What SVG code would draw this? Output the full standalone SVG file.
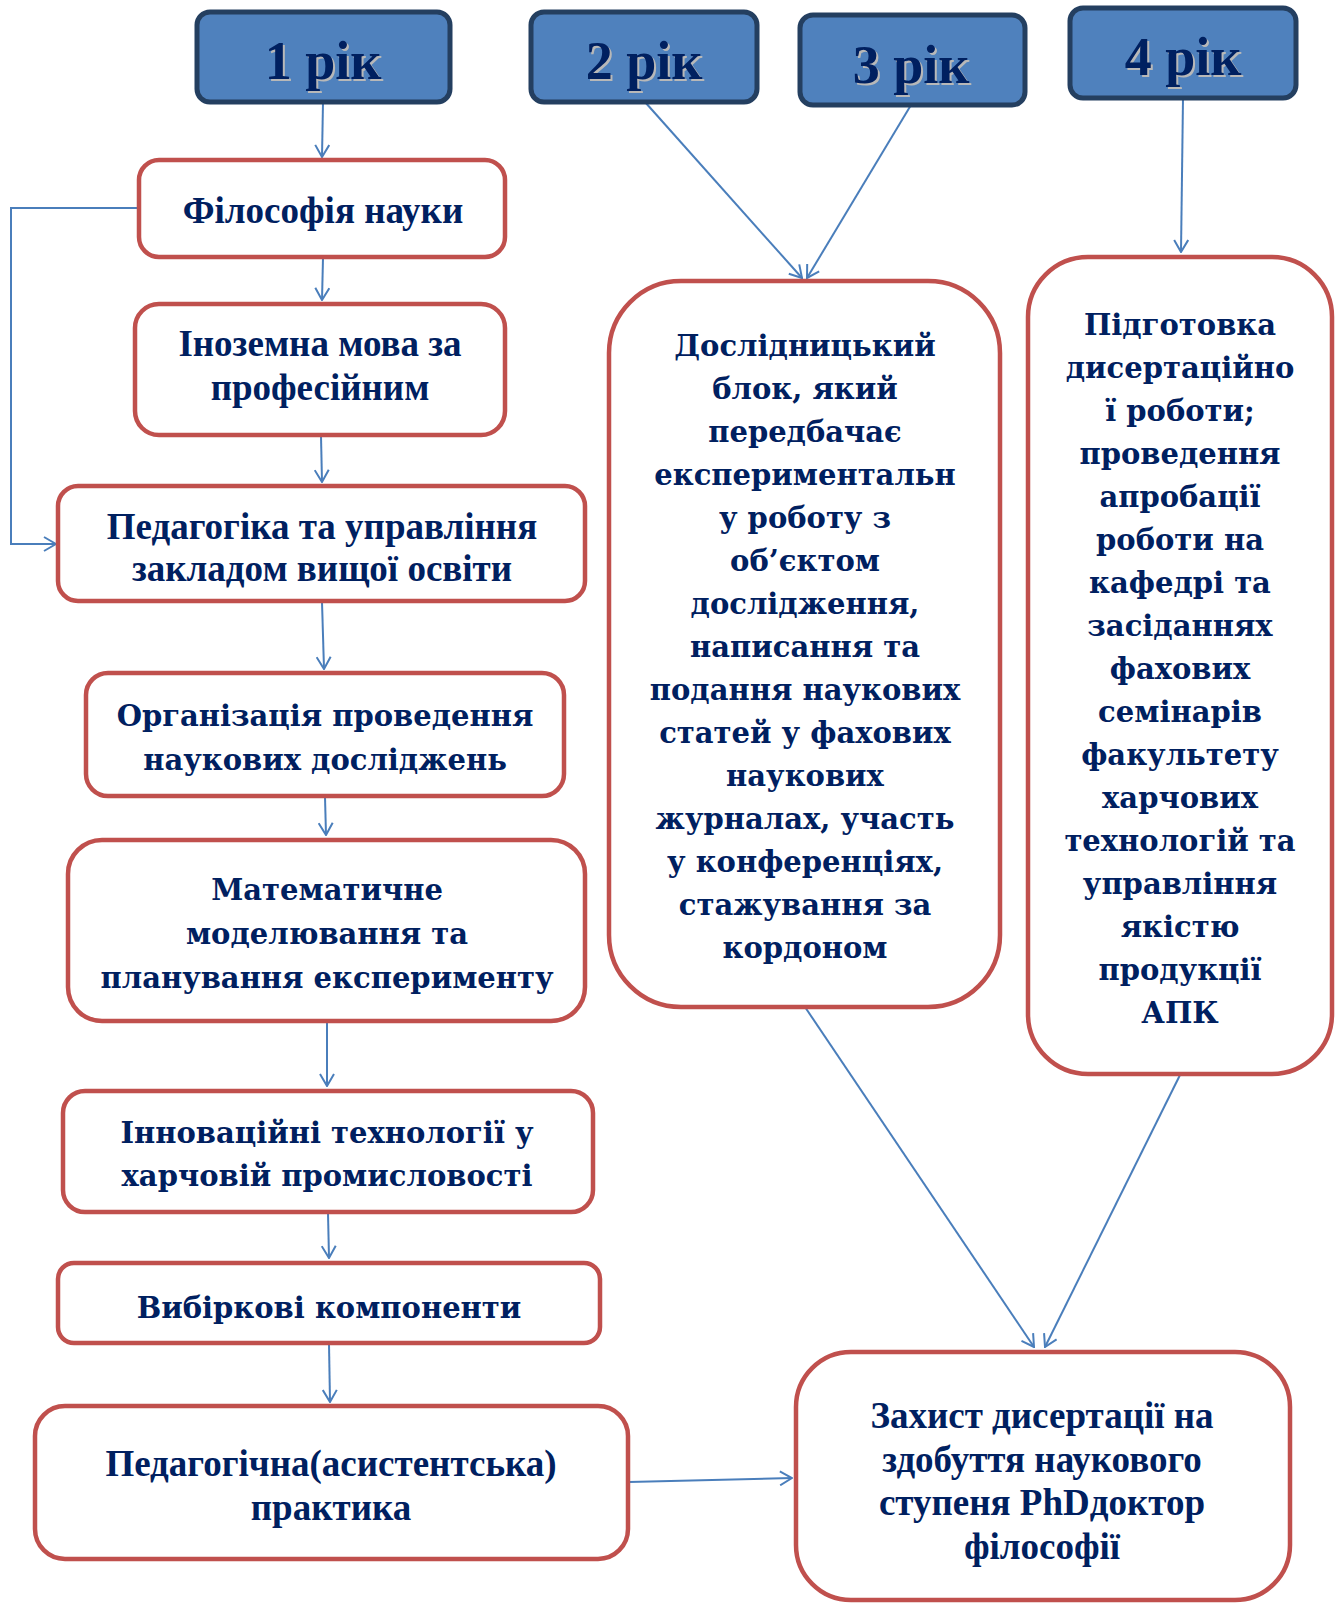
<svg xmlns="http://www.w3.org/2000/svg" width="1344" height="1603" viewBox="0 0 1344 1603">
<style>
.yr{fill:#4F81BD;stroke:#243F60;stroke-width:5}
.bx{fill:#FFFFFF;stroke:#C0504D;stroke-width:4.5}
.yt{font-family:"Liberation Serif",serif;font-weight:bold;font-size:54px;fill:#002060;text-anchor:middle}
.ys{font-family:"Liberation Serif",serif;font-weight:bold;font-size:54px;fill:#B8B8B8;text-anchor:middle}
.t1{font-family:"Liberation Serif",serif;font-weight:bold;font-size:37px;fill:#002060;text-anchor:middle}
.t2{font-family:"DejaVu Serif",serif;font-weight:bold;font-size:29px;fill:#002060;text-anchor:middle}
.cn{fill:none;stroke:#4A7EBB;stroke-width:2}
</style>
<defs>
<marker id="ah" viewBox="0 0 14 16" refX="13" refY="8" markerWidth="14" markerHeight="16" markerUnits="userSpaceOnUse" orient="auto">
<path d="M1,1 L13,8 L1,15" fill="none" stroke="#4A7EBB" stroke-width="2"/>
</marker>
</defs>

<g id="connectors">
<path class="cn" d="M323,102 L322,157" marker-end="url(#ah)"/>
<path class="cn" d="M323,258 L322,300" marker-end="url(#ah)"/>
<path class="cn" d="M321,436 L322,482" marker-end="url(#ah)"/>
<path class="cn" d="M139,208 L11,208 L11,544 L56,544" marker-end="url(#ah)"/>
<path class="cn" d="M322,602 L324,669" marker-end="url(#ah)"/>
<path class="cn" d="M325,797 L326,835" marker-end="url(#ah)"/>
<path class="cn" d="M327,1022 L327,1086" marker-end="url(#ah)"/>
<path class="cn" d="M328,1213 L329,1258" marker-end="url(#ah)"/>
<path class="cn" d="M329,1344 L330,1402" marker-end="url(#ah)"/>
<path class="cn" d="M629,1482 L792,1478" marker-end="url(#ah)"/>
<path class="cn" d="M645,102 L802,278" marker-end="url(#ah)"/>
<path class="cn" d="M911,105 L807,278" marker-end="url(#ah)"/>
<path class="cn" d="M1183,98 L1181,252" marker-end="url(#ah)"/>
<path class="cn" d="M805,1007 L1034,1347" marker-end="url(#ah)"/>
<path class="cn" d="M1180,1075 L1045,1347" marker-end="url(#ah)"/>
</g>

<g id="year1">
<rect class="yr" x="197" y="12" width="253" height="90" rx="13"/>
<text class="ys" x="325" y="81">1 рік</text>
<text class="yt" x="323" y="79">1 рік</text>
</g>
<g id="year2">
<rect class="yr" x="531" y="12" width="226" height="90" rx="13"/>
<text class="ys" x="646" y="81">2 рік</text>
<text class="yt" x="644" y="79">2 рік</text>
</g>
<g id="year3">
<rect class="yr" x="800" y="15" width="225" height="90" rx="13"/>
<text class="ys" x="913" y="85">3 рік</text>
<text class="yt" x="911" y="83">3 рік</text>
</g>
<g id="year4">
<rect class="yr" x="1070" y="8" width="226" height="90" rx="13"/>
<text class="ys" x="1185" y="77">4 рік</text>
<text class="yt" x="1183" y="75">4 рік</text>
</g>

<g id="filosofiya">
<rect class="bx" x="139" y="160" width="366" height="97" rx="20"/>
<text class="t1" x="323" y="223">Філософія науки</text>
</g>
<g id="inozemna">
<rect class="bx" x="135" y="304" width="370" height="131" rx="24"/>
<text class="t1" x="320" y="356">Іноземна мова за</text>
<text class="t1" x="320" y="400">професійним</text>
</g>
<g id="pedagogika">
<rect class="bx" x="58" y="486" width="527" height="115" rx="20"/>
<text class="t1" x="322" y="539">Педагогіка та управління</text>
<text class="t1" x="322" y="581">закладом вищої освіти</text>
</g>
<g id="organizatsiya">
<rect class="bx" x="86" y="673" width="478" height="123" rx="22"/>
<text class="t2" x="325" y="726">Організація проведення</text>
<text class="t2" x="325" y="770">наукових досліджень</text>
</g>
<g id="matematychne">
<rect class="bx" x="68" y="840" width="517" height="181" rx="34"/>
<text class="t2" x="327" y="900">Математичне</text>
<text class="t2" x="327" y="944">моделювання та</text>
<text class="t2" x="327" y="988">планування експерименту</text>
</g>
<g id="innovatsiyni">
<rect class="bx" x="63" y="1091" width="530" height="121" rx="22"/>
<text class="t2" x="327" y="1143">Інноваційні технології у</text>
<text class="t2" x="327" y="1186">харчовій промисловості</text>
</g>
<g id="vybirkovi">
<rect class="bx" x="58" y="1263" width="542" height="80" rx="16"/>
<text class="t2" x="329" y="1318">Вибіркові компоненти</text>
</g>
<g id="praktyka">
<rect class="bx" x="35" y="1406" width="593" height="153" rx="30"/>
<text class="t1" x="331" y="1476">Педагогічна(асистентська)</text>
<text class="t1" x="331" y="1520">практика</text>
</g>

<g id="doslidnytskyi">
<rect class="bx" x="609" y="281" width="391" height="726" rx="72"/>
<text class="t2" x="805" y="356">Дослідницький</text>
<text class="t2" x="805" y="399">блок, який</text>
<text class="t2" x="805" y="442">передбачає</text>
<text class="t2" x="805" y="485">експериментальн</text>
<text class="t2" x="805" y="528">у роботу з</text>
<text class="t2" x="805" y="571">об’єктом</text>
<text class="t2" x="805" y="614">дослідження,</text>
<text class="t2" x="805" y="657">написання та</text>
<text class="t2" x="805" y="700">подання наукових</text>
<text class="t2" x="805" y="743">статей у фахових</text>
<text class="t2" x="805" y="786">наукових</text>
<text class="t2" x="805" y="829">журналах, участь</text>
<text class="t2" x="805" y="872">у конференціях,</text>
<text class="t2" x="805" y="915">стажування за</text>
<text class="t2" x="805" y="958">кордоном</text>
</g>

<g id="pidgotovka">
<rect class="bx" x="1028" y="257" width="304" height="817" rx="60"/>
<text class="t2" x="1180" y="335">Підготовка</text>
<text class="t2" x="1180" y="378">дисертаційно</text>
<text class="t2" x="1180" y="421">ї роботи;</text>
<text class="t2" x="1180" y="464">проведення</text>
<text class="t2" x="1180" y="507">апробації</text>
<text class="t2" x="1180" y="550">роботи на</text>
<text class="t2" x="1180" y="593">кафедрі та</text>
<text class="t2" x="1180" y="636">засіданнях</text>
<text class="t2" x="1180" y="679">фахових</text>
<text class="t2" x="1180" y="722">семінарів</text>
<text class="t2" x="1180" y="765">факультету</text>
<text class="t2" x="1180" y="808">харчових</text>
<text class="t2" x="1180" y="851">технологій та</text>
<text class="t2" x="1180" y="894">управління</text>
<text class="t2" x="1180" y="937">якістю</text>
<text class="t2" x="1180" y="980">продукції</text>
<text class="t2" x="1180" y="1023">АПК</text>
</g>

<g id="zakhyst">
<rect class="bx" x="796" y="1352" width="494" height="248" rx="55"/>
<text class="t1" x="1042" y="1428">Захист дисертації на</text>
<text class="t1" x="1042" y="1472">здобуття наукового</text>
<text class="t1" x="1042" y="1515">ступеня PhDдоктор</text>
<text class="t1" x="1042" y="1559">філософії</text>
</g>
</svg>
